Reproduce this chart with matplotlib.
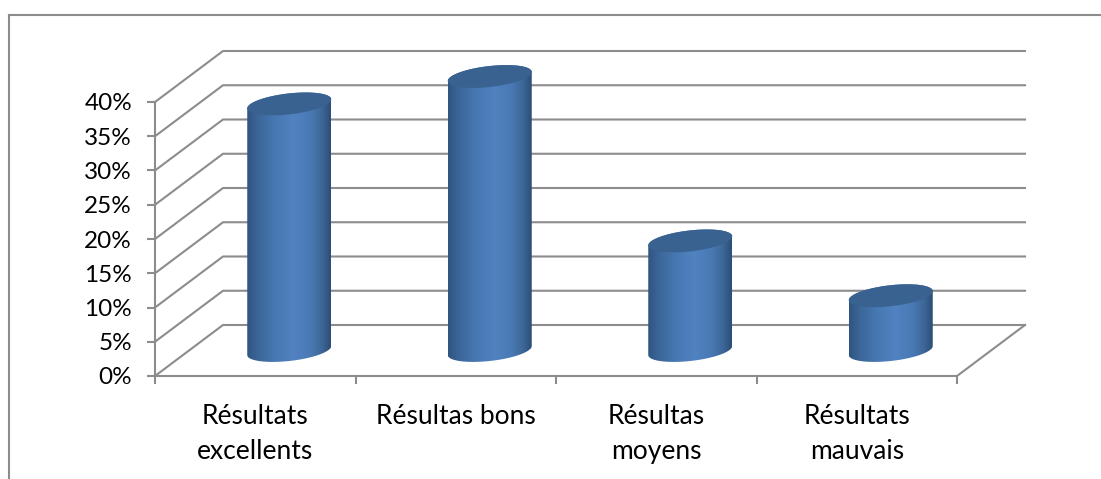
import matplotlib.pyplot as plt
from matplotlib.colors import LinearSegmentedColormap
from matplotlib.lines import Line2D
from matplotlib.patches import PathPatch
from matplotlib.path import Path
import numpy as np

categories = ["Résultats\nexcellents", "Résultas bons", "Résultas\nmoyens", "Résultats\nmauvais"]
values = [36, 40, 16, 8]
y_ticks = [0, 5, 10, 15, 20, 25, 30, 35, 40]

W, H = 1101, 479
GREY = "#8c8c8c"
# plot box in pixels, depth offset of the back wall in pixels
LEFT, RIGHT, BOTTOM, TOP = 155, 957, 376, 102
DEPTH_X, DEPTH_Y = 68, 51

plt.rcParams["font.family"] = ["Lato", "DejaVu Sans"]

fig = plt.figure(figsize=(W / 100, H / 100), dpi=100)
ax = fig.add_axes([LEFT / W, 1 - BOTTOM / H, (RIGHT - LEFT) / W, (BOTTOM - TOP) / H])
ax.set_xlim(0, len(categories))
ax.set_ylim(0, 40)

px_x = len(categories) / (RIGHT - LEFT)
px_y = 40 / (BOTTOM - TOP)
dx = DEPTH_X * px_x
dy = DEPTH_Y * px_y

# walls
for v in y_ticks:
    ax.plot(
        [0, dx, len(categories) + dx],
        [v, v + dy, v + dy],
        color=GREY,
        linewidth=1.5,
        clip_on=False,
        zorder=1,
    )
ax.plot(
    [len(categories), len(categories) + dx],
    [0, dy],
    color=GREY,
    linewidth=1.5,
    clip_on=False,
    zorder=1,
)

body_cmap = LinearSegmentedColormap.from_list(
    "body",
    [
        (0.0, "#2f5580"),
        (0.12, "#3b6597"),
        (0.32, "#4677b1"),
        (0.55, "#5182c1"),
        (0.75, "#4a7ab5"),
        (0.9, "#3c6696"),
        (1.0, "#2c4e76"),
    ],
)
gradient = np.linspace(0, 1, 256).reshape(1, -1)


def ellipse_points(cx, cy, t):
    a = 42 * px_x
    b = 10.5 * px_y
    tilt = 4.5 * px_y
    return cx + a * np.cos(t), cy + b * np.sin(t) + tilt * np.cos(t)


def draw_cylinder(i, value):
    cx = i + 0.5 + dx / 2
    base = dy / 2
    top = base + value
    # silhouette: upper edge of the top ellipse is covered by the cap anyway
    x1, y1 = ellipse_points(cx, top, np.linspace(np.pi, 0, 60))
    x2, y2 = ellipse_points(cx, base, np.linspace(0, -np.pi, 60))
    xs = np.concatenate([x1, x2])
    ys = np.concatenate([y1, y2])
    body = PathPatch(
        Path(np.column_stack([xs, ys])), facecolor="none", edgecolor="none", transform=ax.transData
    )
    ax.add_patch(body)
    body.set_clip_on(False)
    im = ax.imshow(
        gradient,
        cmap=body_cmap,
        extent=[xs.min(), xs.max(), ys.min(), ys.max()],
        aspect="auto",
        zorder=3,
    )
    # the top of the tallest cylinder goes past the axes box
    im.set_clip_path(body)
    im.set_clip_box(fig.bbox)

    cx_t, cy_t = ellipse_points(cx, top, np.linspace(0, 2 * np.pi, 120))
    ax.fill(cx_t, cy_t, color="#3a6291", linewidth=0, zorder=4, clip_on=False)


for i, value in enumerate(values):
    draw_cylinder(i, value)

ax.set_xlim(0, len(categories))
ax.set_ylim(0, 40)

for side in ["top", "right"]:
    ax.spines[side].set_visible(False)
for side in ["left", "bottom"]:
    ax.spines[side].set_color(GREY)
    ax.spines[side].set_linewidth(1.5)

ax.set_yticks(y_ticks)
ax.set_yticklabels([f"{v}%" for v in y_ticks], fontsize=17.5, color="black", va="center_baseline")
ax.tick_params(axis="y", length=5.5, width=1.5, color=GREY, pad=11)

# group separators as major ticks, the names sit on minor ticks in between
ax.set_xticks(np.arange(len(categories) + 1))
ax.set_xticklabels([])
ax.set_xticks(np.arange(len(categories)) + 0.5, minor=True)
ax.set_xticklabels(categories, minor=True, fontsize=19, color="black", linespacing=1.47)
ax.tick_params(axis="x", which="major", length=6, width=1.5, color=GREY)
ax.tick_params(axis="x", which="minor", length=0, pad=20.5)

# outer frame, only top and left are in view
fig.add_artist(Line2D([9 / W, 9 / W], [0, 1 - 15 / H], color=GREY, linewidth=1.5))
fig.add_artist(Line2D([9 / W, 1], [1 - 15 / H, 1 - 15 / H], color=GREY, linewidth=1.5))

fig.savefig("out.png", dpi=100)
